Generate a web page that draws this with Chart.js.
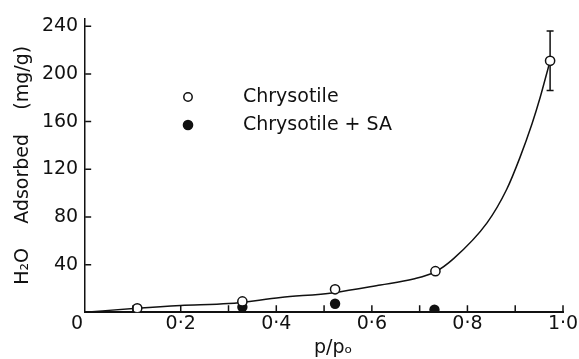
<!DOCTYPE html>
<html><head><meta charset="utf-8">
<script src="https://cdn.jsdelivr.net/npm/chart.js@4"></script>
<style>html,body{margin:0;padding:0;background:#fff}</style>
</head><body>
<canvas id="c" width="579" height="359" style="width:579px;height:359px;display:block"></canvas>
<script>
// ---- data ----
const xTickValues = [0, 0.1, 0.2, 0.3, 0.4, 0.5, 0.6, 0.7, 0.8, 0.9, 1.0];
const xTickLabels = ['', '', '0·2', '', '0·4', '', '0·6', '', '0·8', '', '1·0'];
const yTickValues = [0, 40, 80, 120, 160, 200, 240];
const yTickLabels = ['', '40', '80', '120', '160', '200', '240'];
const originLabel = '0';
const legendLabels = ['Chrysotile', 'Chrysotile + SA'];

const chrysotileX = [0.109, 0.329, 0.523, 0.733, 0.973];
const chrysotileY = [3.4, 9.1, 19.3, 34.5, 211];
const chrysotileErrLow  = [null, null, null, null, 186];
const chrysotileErrHigh = [null, null, null, null, 236];

const saX = [0.329, 0.523, 0.731];
const saY = [4.4, 7.2, 2.2];

const curveX = [0, 0.108, 0.2, 0.3, 0.409, 0.52, 0.618, 0.687, 0.733, 0.771, 0.841, 0.882, 0.91, 0.935, 0.952, 0.969, 0.973];
const curveY = [0, 3.5, 5.8, 7.3, 12.4, 16.5, 22.9, 27.9, 34, 45, 75, 103, 130, 158, 180, 205, 211];

const xTitle = '   p/pₒ';
const yTitle = 'H₂O    Adsorbed    (mg/g)';

// ---- chart ----
const INK = '#111';
const FONT = 'DejaVu Sans';
Chart.defaults.font.family = FONT;
Chart.defaults.font.size = 19;
Chart.defaults.color = INK;

const toXY = (xs, ys) => xs.map((x, i) => ({x: x, y: ys[i]}));

const decor = {
  id: 'decor',
  beforeDatasetsDraw(chart) {
    const ctx = chart.ctx, xs = chart.scales.x, ys = chart.scales.y;
    ctx.save();
    ctx.strokeStyle = INK; ctx.lineWidth = 1.5;
    chrysotileX.forEach((xv, i) => {
      if (chrysotileErrLow[i] == null) return;
      const px = xs.getPixelForValue(xv);
      const t = ys.getPixelForValue(chrysotileErrHigh[i]);
      const b = ys.getPixelForValue(chrysotileErrLow[i]);
      ctx.beginPath();
      ctx.moveTo(px, t); ctx.lineTo(px, b);
      ctx.moveTo(px - 3.5, t); ctx.lineTo(px + 3.5, t);
      ctx.moveTo(px - 3.5, b); ctx.lineTo(px + 3.5, b);
      ctx.stroke();
    });
    ctx.restore();
  },
  afterDraw(chart) {
    const ctx = chart.ctx, xs = chart.scales.x, ys = chart.scales.y;
    const ca = chart.chartArea;
    ctx.save();
    ctx.strokeStyle = INK; ctx.lineWidth = 1.5;
    // inward ticks
    ctx.beginPath();
    xTickValues.forEach(v => {
      if (v === 0) return;
      const px = xs.getPixelForValue(v);
      ctx.moveTo(px, ca.bottom); ctx.lineTo(px, ca.bottom - 7);
    });
    yTickValues.forEach(v => {
      if (v === 0) return;
      const py = ys.getPixelForValue(v);
      ctx.moveTo(ca.left, py); ctx.lineTo(ca.left + 6, py);
    });
    ctx.stroke();
    // origin label
    ctx.fillStyle = INK;
    ctx.font = '19px ' + FONT;
    ctx.textAlign = 'center'; ctx.textBaseline = 'middle';
    ctx.fillText(originLabel, xs.getPixelForValue(0) - 8, ca.bottom + 12);
    // legend
    const lx = 188, ly = [97, 125], tx = 243;
    ctx.lineWidth = 1.5;
    ctx.beginPath(); ctx.arc(lx, ly[0], 4.2, 0, Math.PI * 2);
    ctx.fillStyle = '#fff'; ctx.fill(); ctx.stroke();
    ctx.beginPath(); ctx.arc(lx, ly[1], 5.3, 0, Math.PI * 2);
    ctx.fillStyle = INK; ctx.fill();
    ctx.textAlign = 'left';
    ctx.fillText(legendLabels[0], tx, ly[0]);
    ctx.fillText(legendLabels[1], tx, ly[1]);
    ctx.restore();
  }
};

new Chart(document.getElementById('c'), {
  type: 'scatter',
  data: {
    datasets: [
      { label: legendLabels[0], data: toXY(chrysotileX, chrysotileY),
        pointRadius: 4.6, pointBorderWidth: 1.5, pointBackgroundColor: '#fff', pointBorderColor: INK,
        showLine: false, clip: {left: 10, right: 10, top: 10, bottom: 0} },
      { label: legendLabels[1], data: toXY(saX, saY),
        pointRadius: 5.2, pointBorderWidth: 0, pointBackgroundColor: INK, pointBorderColor: INK,
        showLine: false, clip: {left: 10, right: 10, top: 10, bottom: 0} },
      { label: 'fit', data: toXY(curveX, curveY), showLine: true, pointRadius: 0,
        borderColor: INK, borderWidth: 1.5, cubicInterpolationMode: 'monotone', fill: false,
        clip: 10 }
    ]
  },
  options: {
    responsive: false, animation: false, devicePixelRatio: 1,
    layout: { padding: { left: 13, right: 16, top: 13, bottom: 0 } },
    plugins: { legend: { display: false }, tooltip: { enabled: false } },
    scales: {
      x: {
        type: 'linear', min: 0, max: 1.0,
        afterBuildTicks: s => { s.ticks = xTickValues.map(v => ({value: v})); },
        ticks: { autoSkip: false, maxRotation: 0, padding: 0,
          callback: (v, i) => xTickLabels[i] },
        grid: { display: false, drawTicks: false, tickLength: 0 },
        border: { display: true, color: INK, width: 2 },
        title: { display: true, text: xTitle, padding: {top: 3, bottom: 0}, font: {size: 19, lineHeight: 1.1} }
      },
      y: {
        type: 'linear', min: 0, max: 246.6,
        afterBuildTicks: s => { s.ticks = yTickValues.map(v => ({value: v})); },
        ticks: { autoSkip: false, padding: 7,
          callback: (v, i) => yTickLabels[i] },
        grid: { display: false, drawTicks: false, tickLength: 0 },
        border: { display: true, color: INK, width: 1.5 },
        title: { display: true, text: yTitle, padding: {top: 0, bottom: 1}, font: {size: 19, lineHeight: 1.1} }
      }
    }
  },
  plugins: [decor]
});
</script>
</body></html>
